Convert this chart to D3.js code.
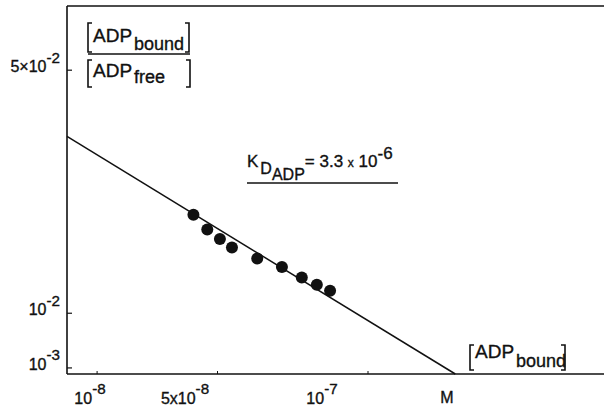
<html>
<head>
<meta charset="utf-8">
<title>Scatchard plot ADP</title>
<style>
  body { margin: 0; background: #fff; }
  svg { font-family: "Liberation Sans", Arial, sans-serif; }
  text { stroke: #111; stroke-width: 0.35; }
</style>
</head>
<body>
<svg id="chart" width="604" height="409"></svg>
<script src="https://cdn.jsdelivr.net/npm/d3@7"></script>
<script>
// bound ADP (M) and bound/free ratio
const boundADP = [4.20e-8, 4.66e-8, 5.08e-8, 5.48e-8, 6.32e-8, 7.14e-8, 7.80e-8, 8.30e-8, 8.74e-8];
const ratio = [0.0262, 0.0238, 0.0222, 0.0208, 0.0190, 0.0176, 0.0159, 0.0147, 0.0137];

// fitted line: slope -1/Kd, crosses x axis at Bmax
const Kd = 3.3e-6;
const Bmax = 1.29e-7;

const xTicks = [1e-8, 5e-8, 1e-7];
const xTickLabels = [["10", "-8"], ["5x10", "-8"], ["10", "-7"]];
const yTicks = [1e-3, 1e-2, 5e-2];
const yTickLabels = [["10", "-3"], ["10", "-2"], ["5\u00d710", "-2"]];

const svg = d3.select("#chart");
const ink = "#111";

const x = d3.scaleLinear().domain([0, 1.784e-7]).range([67, 604]);
const y = d3.scaleLinear().domain([0, 0.0604]).range([374, 7]);
// the printed tick labels sit left of their ticks in the original
const xLab = d3.scaleLinear().domain([1e-8, 5e-8, 1e-7]).range([90, 185, 322]);

// frame: y axis, top line, x axis
svg.append("line").attr("x1", x(0)).attr("x2", x(0)).attr("y1", y(0)).attr("y2", y.range()[1] - 1)
  .attr("stroke", ink).attr("stroke-width", 1.6);
svg.append("line").attr("x1", x(0)).attr("x2", 604).attr("y1", 6).attr("y2", 6)
  .attr("stroke", ink).attr("stroke-width", 1.6);
svg.append("line").attr("x1", x(0)).attr("x2", 604).attr("y1", y(0)).attr("y2", y(0))
  .attr("stroke", ink).attr("stroke-width", 1.6);

// ticks
svg.selectAll(".xt").data(xTicks).join("line")
  .attr("x1", d => x(d)).attr("x2", d => x(d)).attr("y1", y(0)).attr("y2", y(0) - 3)
  .attr("stroke", ink).attr("stroke-width", 1);
svg.selectAll(".yt").data(yTicks).join("line")
  .attr("x1", x(0)).attr("x2", x(0) + 5).attr("y1", d => y(d)).attr("y2", d => y(d))
  .attr("stroke", ink).attr("stroke-width", 1.2);

// tick labels with superscripts
function supText(g, base, sup, size) {
  g.append("tspan").text(base);
  g.append("tspan").text(sup).attr("dy", -size * 0.6).attr("font-size", size * 0.95);
}
xTicks.forEach((d, i) => {
  const t = svg.append("text").attr("x", xLab(d)).attr("y", 404)
    .attr("font-size", 16).attr("text-anchor", "middle").attr("fill", ink);
  supText(t, xTickLabels[i][0], xTickLabels[i][1], 16);
});
yTicks.forEach((d, i) => {
  const t = svg.append("text").attr("x", 60).attr("y", y(d) + 2)
    .attr("font-size", 16).attr("text-anchor", "end").attr("fill", ink);
  supText(t, yTickLabels[i][0], yTickLabels[i][1], 16);
});

// fitted line
const line = d3.line().x(d => x(d)).y(d => y((Bmax - d) / Kd));
svg.append("path").datum([0, Bmax]).attr("d", line)
  .attr("fill", "none").attr("stroke", ink).attr("stroke-width", 1.5);

// data points
svg.selectAll(".pt").data(boundADP).join("circle")
  .attr("cx", d => x(d)).attr("cy", (d, i) => y(ratio[i])).attr("r", 6)
  .attr("fill", ink);

// bracket helper
function bracket(x0, y0, y1, dir) {
  svg.append("path")
    .attr("d", `M${x0 + 4 * dir},${y0} H${x0} V${y1} H${x0 + 4 * dir}`)
    .attr("fill", "none").attr("stroke", ink).attr("stroke-width", 1.6);
}
function label(xp, yp, main, sub, subDy) {
  const t = svg.append("text").attr("x", xp).attr("y", yp)
    .attr("font-size", 19).attr("fill", ink);
  t.append("tspan").text(main);
  t.append("tspan").text(sub).attr("dy", subDy).attr("dx", 2).attr("font-size", 18);
  return t;
}

// y axis title: [ADP bound] / [ADP free]
bracket(88, 23, 52, 1);
label(93, 42, "ADP", "bound", 8);
bracket(189, 23, 52, -1);
svg.append("line").attr("x1", 88).attr("x2", 190).attr("y1", 54).attr("y2", 54)
  .attr("stroke", ink).attr("stroke-width", 1.6);
bracket(88, 60, 87, 1);
label(93, 77, "ADP", "free", 6);
bracket(190, 60, 87, -1);

// x axis title
bracket(470, 345, 370, 1);
label(475, 358, "ADP", "bound", 9);
bracket(565, 345, 370, -1);
svg.append("text").attr("x", 447).attr("y", 403).attr("font-size", 16)
  .attr("text-anchor", "middle").attr("fill", ink).text("M");

// Kd annotation
const k = svg.append("text").attr("x", 247).attr("y", 167).attr("font-size", 17).attr("fill", ink);
k.append("tspan").text("K");
k.append("tspan").text("D").attr("dy", 7).attr("dx", 2).attr("font-size", 16);
k.append("tspan").text("ADP").attr("dy", 6).attr("font-size", 16);
k.append("tspan").text("= 3.3 ").attr("dy", -13);
k.append("tspan").text("x").attr("font-size", 12);
k.append("tspan").text(" 10");
k.append("tspan").text("-6").attr("dy", -8).attr("font-size", 17);
svg.append("line").attr("x1", 247).attr("x2", 398).attr("y1", 183).attr("y2", 183)
  .attr("stroke", ink).attr("stroke-width", 1.5);
</script>
</body>
</html>
